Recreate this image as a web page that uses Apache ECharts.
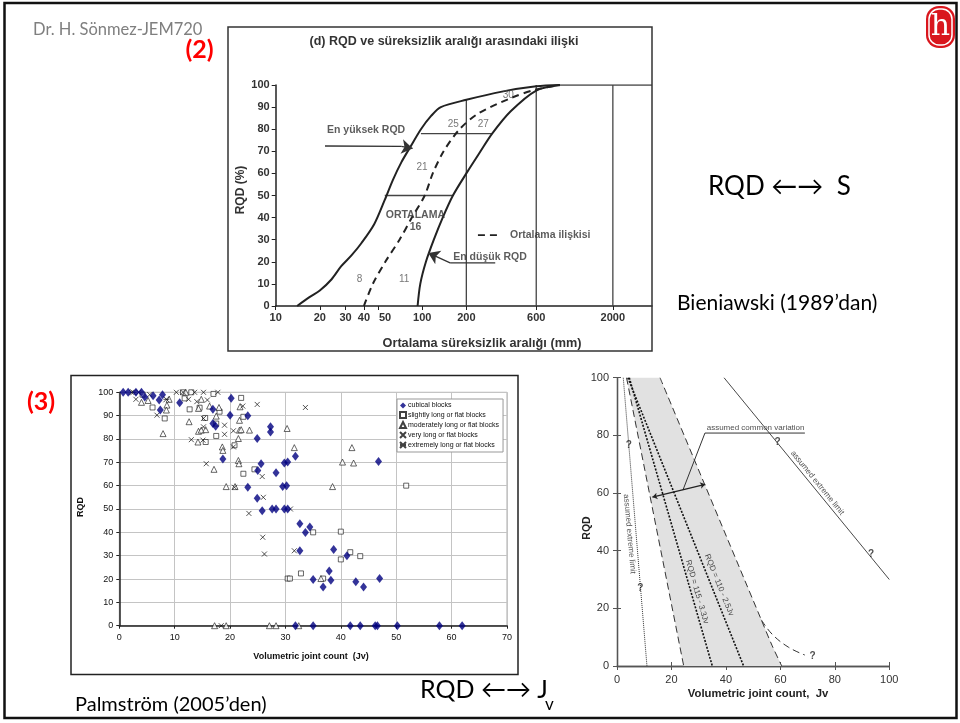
<!DOCTYPE html>
<html><head><meta charset="utf-8">
<script src="https://cdn.jsdelivr.net/npm/echarts@6/dist/echarts.min.js"></script>
<style>html,body{margin:0;padding:0;background:#fff}#c{width:960px;height:723px}</style>
</head><body><div id="c"></div>
<script>
// ===== Chart (2): RQD vs mean discontinuity spacing (Bieniawski 1989) =====
const spacingTicks = [10, 20, 30, 40, 50, 100, 200, 600, 2000];
const upperCurve = [[14,0],[17,4],[20,7],[24,12],[28,18],[33,23],[38.4,28.4],[47,37],[55.5,48],[63,57],[72,65],[83,72],[98,80],[115,86],[134,90],[200,93.3],[350,97],[600,99.4],[870,100]];
const meanCurve = [[40,0],[46,10],[56,20],[70,30],[85,40],[104,50],[118,60],[140,70],[180,80],[240,87],[400,94],[600,98],[870,100]];
const lowerCurve = [[93,0],[97,10],[106,20],[120,30],[138,40],[162,50],[200,60],[250,70],[300,78],[400,88],[600,97.5],[870,100]];
const frameLines2 = [
  [[870,100],[3700,100]],
  [[200,0],[200,93.3]],
  [[600,0],[600,100]],
  [[2000,0],[2000,100]],
  [[98,78],[300,78]],
  [[55.5,50],[162,50]]
];
const numLabels2 = [[163,82.4,'25'],[261,82.4,'27'],[387,95.2,'30'],[99.7,62.6,'21'],[37.4,12.1,'8'],[75.2,12.1,'11']];
const boldLabels2 = [[89.8,41.2,'ORTALAMA'],[90,35.9,'16'],[41.4,79.6,'En yüksek RQD'],[290,22.2,'En düşük RQD']];
const legendLabel2 = [[748,32.1,'Ortalama ilişkisi']];
const legendDash2 = [[240,32.1],[329,32.1]];
const highShaft = [[21.7,72.4],[72,72.2]];
const highHead = [[72,72.2],[86,71.3]];
const lowShaft = [[315,19.5],[155,19.5]];
const lowHead = [[155,19.5],[110,24]];

// ===== Chart (3): Palmström scatter RQD vs Jv =====
const cubical = [[0.7,100],[1.6,100],[3,100],[4,100],[4.6,98],[6.1,98.5],[7.8,99],[7.2,96.7],[7.4,92.4],[10.9,95.5],[16.9,92.7],[16.9,86.6],[17.4,85.5],[18.7,71.4],[20.2,97.4],[20,90.2],[23.2,90],[24.9,80.2],[27.3,85.2],[27.3,83],[25,66.5],[25.6,69.4],[28.3,65.5],[23.2,59.3],[24.9,54.6],[25.8,49.3],[27.6,50],[28.3,50],[29.8,69.7],[30.4,70.1],[31.8,72.6],[29.5,59.6],[30.2,60],[29.8,50],[30.4,50],[32.6,43.7],[34.4,42.3],[33.6,39.9],[32.6,32.1],[38.7,32.7],[41.1,30],[37.9,23.4],[35,19.8],[38.2,19.5],[36.8,16.6],[42.7,18.8],[44.1,16.6],[47,20.2],[46.8,70.3],[31.8,0],[35,0],[41.7,0],[43.5,0],[46.2,0],[46.6,0],[50.2,0],[57.8,0],[61.9,0]];
const slightly = [[4.2,99],[6,93.5],[8.2,88.8],[11.8,97.4],[12.7,92.7],[14.5,93.4],[17,99.3],[17.5,86.6],[18.1,91.7],[15.5,89],[15.6,78.7],[17.5,81.3],[22,97.6],[22.4,89.5],[22.4,65.1],[24.4,67],[20.8,77.3],[30.4,20.2],[35,40],[40,40.3],[41.7,31.5],[40,28.4],[43.5,29.8],[32.8,22.4],[30.8,20.2],[36.8,20.2],[51.8,60],[13,100],[11.5,100]];
const moderately = [[4,95.7],[5.2,96.5],[8.6,94.5],[8.5,92.4],[9,97],[7.9,82.3],[12.6,87.4],[14.3,93.1],[16.3,94.1],[18,93.5],[17.5,89.8],[14.3,83.3],[14.8,83.8],[15.6,84],[14.2,78.7],[18.6,76.6],[18.7,75.1],[17.1,67],[19.3,59.6],[20.9,59.6],[21.8,93.8],[21.7,88],[21.7,83.8],[22,84],[23.5,83.8],[21.5,80.2],[21.5,70.8],[21.6,69.4],[30.3,84.5],[31.6,76.3],[42,76.3],[40.3,70.1],[42.3,69.7],[38.5,59.6],[36.4,20.2],[17.2,0],[19.3,0],[27.1,0],[28.3,0],[32.4,0],[12,100],[14.8,97]];
const veryLong = [[2.2,100],[3.5,100],[5.5,99],[3,97],[6.8,90.2],[10.3,100],[11.5,100],[13.6,100],[15.2,100],[17.8,100],[13,79.7],[15.1,79.5],[15.2,85.2],[15.2,88.8],[15.9,96.7],[19,85.9],[19,82],[15.7,69.4],[20.6,83.5],[20.6,76.6],[20.8,59.3],[22.3,94.1],[24.9,94.8],[25.8,63.9],[26,55],[23.4,48.1],[33.6,93.5],[30.9,50],[25.9,37.9],[26.2,30.7],[31.6,32.1],[18.4,0],[12.5,97],[14,96]];
const extremelyLong = [[2.5,100],[8.5,97]];

// ===== Chart (4): RQD - Jv relation (Palmström 2005) =====
const bandPolygon = [[3.5,100],[24.5,0],[60.5,0],[57,7],[53,16],[15.8,100]];
const bandLeft = [[3.5,100],[24.5,0]];
const bandRight = [[15.8,100],[53,16],[57,7],[60.5,0]];
const bandTail = [[53,16],[57,11],[63,6.5],[69,3.8]];
const lineA = [[4.5,100],[35,0]];
const lineB = [[4,100],[46.5,0]];
const leftExtreme = [[2.3,100],[11,0]];
const rightExtreme = [[39.3,100],[100,30]];
const commonArrow = [[13,58.6],[32.4,63]];
const commonPointer = [[69,80.8],[32.3,80.8],[24.2,61]];
const qMarks = [[4.3,76.6],[8.6,27],[59,77.7],[93.3,38.8],[71.8,3.5]];
const rotLabels4 = [[29.4,25.7,'RQD = 115 - 3.3Jv',-74],[37.5,28.1,'RQD = 110 - 2.5Jv',-68],[4.6,45.8,'assumed extreme limit',-85],[73.6,63.5,'assumed extreme limit',-51]];
const commonLabel4 = [[50.9,82.6,'assumed common variation']];

const AR = 'Liberation Sans';
const SL = 'Lato';

function lineSer(data, xi, yi, style, extra) {
  return Object.assign({type:'line', xAxisIndex:xi, yAxisIndex:yi, data:data, showSymbol:false, symbol:'none', silent:true, lineStyle:style, z:3}, extra||{});
}
function textSer(arr, xi, yi, lab) {
  return {type:'scatter', xAxisIndex:xi, yAxisIndex:yi, symbolSize:0, silent:true, z:5,
    data: arr.map(d => ({value:[d[0],d[1]], label:{formatter:d[2], rotate: d[3]||0}})),
    label: Object.assign({show:true, position:'inside'}, lab)};
}

const series = [];
// chart 2
frameLines2.forEach(l => series.push(lineSer(l,0,0,{color:'#444',width:1.3})));
series.push(lineSer(upperCurve,0,0,{color:'#222',width:2},{smooth:0.3}));
series.push(lineSer(lowerCurve,0,0,{color:'#222',width:2},{smooth:0.3}));
series.push(lineSer(meanCurve,0,0,{color:'#222',width:2,type:[7,5]},{smooth:0.3}));
series.push(lineSer(legendDash2,0,0,{color:'#222',width:1.8,type:[7,5]}));
series.push(lineSer(highShaft,0,0,{color:'#333',width:1.3}));
series.push(lineSer(lowShaft,0,0,{color:'#333',width:1.3}));
series.push({type:'lines', coordinateSystem:'cartesian2d', xAxisIndex:0, yAxisIndex:0, silent:true, z:4,
  symbol:['none','arrow'], symbolSize:11, lineStyle:{color:'#333', width:1.3, opacity:1},
  data:[{coords:highHead},{coords:lowHead}]});
series.push(textSer(numLabels2,0,0,{fontSize:10,color:'#555',fontFamily:AR}));
series.push(textSer(boldLabels2,0,0,{fontSize:10.5,color:'#333',fontWeight:'bold',fontFamily:AR}));
series.push(textSer(legendLabel2,0,0,{fontSize:10.5,color:'#333',fontWeight:'bold',fontFamily:AR}));

// chart 3
const hollow = {color:'#fff', borderColor:'#111', borderWidth:0.8};
series.push({name:'cubical blocks', type:'scatter', xAxisIndex:1, yAxisIndex:1, data:cubical, symbol:'diamond', symbolSize:[7,9], itemStyle:{color:'#000080'}, z:6});
series.push({name:'slightly long or flat blocks', type:'scatter', xAxisIndex:1, yAxisIndex:1, data:slightly, symbol:'rect', symbolSize:5, itemStyle:hollow, z:5});
series.push({name:'moderately long or flat blocks', type:'scatter', xAxisIndex:1, yAxisIndex:1, data:moderately, symbol:'triangle', symbolSize:6, itemStyle:hollow, z:5});
series.push({name:'very long or flat blocks', type:'scatter', xAxisIndex:1, yAxisIndex:1, data:veryLong, symbol:'path://M0,0L10,10M10,0L0,10', symbolSize:5, itemStyle:{color:'rgba(0,0,0,0)', borderColor:'#111', borderWidth:0.9}, z:5});
series.push({name:'extremely long or flat blocks', type:'scatter', xAxisIndex:1, yAxisIndex:1, data:extremelyLong, symbol:'path://M0,0L10,10M10,0L0,10M0,5L10,5', symbolSize:6, itemStyle:{color:'rgba(0,0,0,0)', borderColor:'#111', borderWidth:0.9}, z:5});

// chart 4
series.push({type:'custom', xAxisIndex:2, yAxisIndex:2, silent:true, z:1, data:[[0,0]],
  renderItem:(p, api) => ({type:'polygon', shape:{points: bandPolygon.map(q => api.coord(q))}, style:{fill:'#e1e1e1'}})});
series.push(lineSer(bandLeft,2,2,{color:'#333',width:1,type:[7,4]}));
series.push(lineSer(bandRight,2,2,{color:'#333',width:1,type:[7,4]},{smooth:0.3}));
series.push(lineSer(bandTail,2,2,{color:'#333',width:1,type:[7,4]},{smooth:0.4}));
series.push(lineSer(lineA,2,2,{color:'#111',width:1.6,type:[2,1.5]}));
series.push(lineSer(lineB,2,2,{color:'#111',width:1.6,type:[2,1.5]}));
series.push(lineSer(leftExtreme,2,2,{color:'#333',width:1,type:[1,1]}));
series.push(lineSer(rightExtreme,2,2,{color:'#333',width:0.9}));
series.push(lineSer(commonPointer,2,2,{color:'#333',width:1}));
series.push({type:'lines', coordinateSystem:'cartesian2d', xAxisIndex:2, yAxisIndex:2, silent:true, z:4,
  symbol:['arrow','arrow'], symbolSize:5, lineStyle:{color:'#222', width:1.3, opacity:1},
  data:[{coords:commonArrow}]});
series.push(textSer(qMarks.map(q=>[q[0],q[1],'?']),2,2,{fontSize:10,color:'#222',fontWeight:'bold',fontFamily:AR}));
series.push(textSer(rotLabels4,2,2,{fontSize:8,color:'#222',fontFamily:AR}));
series.push(textSer(commonLabel4,2,2,{fontSize:8,color:'#222',fontFamily:AR}));

const blackAxis = {lineStyle:{color:'#222', width:1.5}};
const option = {
  animation:false,
  backgroundColor:'#fff',
  legend:{
    left:397, top:399, orient:'vertical', itemGap:2, itemWidth:6, itemHeight:6, padding:[3,4,3,2],
    borderColor:'#999', borderWidth:1, backgroundColor:'#fff', selectedMode:false,
    textStyle:{fontSize:7, fontFamily:AR, color:'#111', padding:[0,0,0,-3]},
    data:['cubical blocks','slightly long or flat blocks','moderately long or flat blocks','very long or flat blocks','extremely long or flat blocks']
  },
  grid:[
    {left:275.7, top:85, width:376.3, height:221},
    {left:119.3, top:392.3, width:387.7, height:233.4, show:true, borderColor:'#aaa', borderWidth:1, backgroundColor:'#fff'},
    {left:617, top:377.7, width:272.3, height:288.3}
  ],
  xAxis:[
    {gridIndex:0, type:'log', logBase:10, min:10, max:3700, axisLine:blackAxis,
     axisTick:{show:true, length:4, customValues:spacingTicks, lineStyle:{color:'#222'}},
     axisLabel:{customValues:spacingTicks,
       formatter:v => { const s = String(Math.round(v)); return s === '50' ? '{p|50}' : s; },
       rich:{p:{padding:[0,0,0,14], fontSize:11, fontWeight:'bold', fontFamily:AR, color:'#333'}},
       fontSize:11, fontWeight:'bold', fontFamily:AR, color:'#333', margin:6},
     splitLine:{show:false}, minorTick:{show:false}},
    {gridIndex:1, type:'value', min:0, max:70, interval:10, axisLine:blackAxis,
     axisTick:{show:true, length:3, inside:false, lineStyle:{color:'#222'}},
     axisLabel:{fontSize:9, fontFamily:AR, color:'#111', margin:7},
     splitLine:{show:true, lineStyle:{color:'#c4c4c4', width:1}}},
    {gridIndex:2, type:'value', min:0, max:100, interval:20, axisLine:{lineStyle:{color:'#555', width:1.3}},
     axisTick:{show:true, length:4, lineStyle:{color:'#555'}},
     axisLabel:{fontSize:11, fontFamily:AR, color:'#333', margin:8},
     splitLine:{show:false}},
    {gridIndex:2, type:'value', position:'top', min:0, max:100, interval:20, axisLine:{lineStyle:{color:'#555', width:1.3}},
     axisTick:{show:true, length:4, lineStyle:{color:'#555'}}, axisLabel:{show:false}, splitLine:{show:false}}
  ],
  yAxis:[
    {gridIndex:0, type:'value', min:0, max:100, interval:10, axisLine:{show:true, lineStyle:{color:'#222', width:1.5}},
     axisTick:{show:true, length:4, lineStyle:{color:'#222'}},
     axisLabel:{fontSize:11, fontWeight:'bold', fontFamily:AR, color:'#333', margin:6},
     splitLine:{show:false}},
    {gridIndex:1, type:'value', min:0, max:100, interval:10, axisLine:{show:true, lineStyle:{color:'#222', width:1.5}},
     axisTick:{show:true, length:3, lineStyle:{color:'#222'}},
     axisLabel:{fontSize:9, fontFamily:AR, color:'#111', margin:6},
     splitLine:{show:true, lineStyle:{color:'#c4c4c4', width:1}}},
    {gridIndex:2, type:'value', min:0, max:100, interval:20, axisLine:{show:true, lineStyle:{color:'#555', width:1.3}},
     axisTick:{show:true, length:4, lineStyle:{color:'#555'}},
     axisLabel:{fontSize:11, fontFamily:AR, color:'#333', margin:8},
     splitLine:{show:false}},
    {gridIndex:2, type:'value', position:'right', min:0, max:100, interval:20, axisLine:{show:true, lineStyle:{color:'#555', width:1.3}},
     axisTick:{show:true, length:4, lineStyle:{color:'#555'}}, axisLabel:{show:false}, splitLine:{show:false}}
  ],
  graphic:[
    {type:'rect', shape:{x:4.5, y:3, width:952, height:715}, style:{fill:'none', stroke:'#111', lineWidth:2.5}, z:100},
    {type:'rect', shape:{x:228, y:27, width:424, height:324}, style:{fill:'none', stroke:'#333', lineWidth:1.5}, z:100},
    {type:'rect', shape:{x:71, y:375.5, width:447, height:299}, style:{fill:'none', stroke:'#222', lineWidth:1.5}, z:100},
    {type:'text', style:{text:'Dr. H. Sönmez-JEM720', x:33, y:30, fontSize:16.5, fontFamily:SL, fill:'#7f7f7f', textVerticalAlign:'middle'}, z:100},
    {type:'text', style:{text:'(2)', x:199.5, y:50, fontSize:25, fontWeight:'bold', fontFamily:SL, fill:'#ff0000', textAlign:'center', textVerticalAlign:'middle'}, z:101},
    {type:'text', style:{text:'(3)', x:41, y:402, fontSize:25, fontWeight:'bold', fontFamily:SL, fill:'#ff0000', textAlign:'center', textVerticalAlign:'middle'}, z:101},
    {type:'text', style:{text:'(d) RQD ve süreksizlik aralığı arasındaki ilişki', x:444, y:42, fontSize:12.5, fontWeight:'bold', fontFamily:AR, fill:'#333', textAlign:'center', textVerticalAlign:'middle'}, z:100},
    {type:'text', style:{text:'RQD (%)', fontSize:12, fontWeight:'bold', fontFamily:AR, fill:'#333', textAlign:'center', textVerticalAlign:'middle'}, x:241, y:190, rotation:Math.PI/2, z:100},
    {type:'text', style:{text:'Ortalama süreksizlik aralığı (mm)', x:482, y:343, fontSize:12.7, fontWeight:'bold', fontFamily:AR, fill:'#333', textAlign:'center', textVerticalAlign:'middle'}, z:100},
    {type:'text', style:{text:'RQD \u2190\u2192  S', x:708, y:187, fontSize:26, fontFamily:SL, fill:'#000', textVerticalAlign:'middle'}, z:100},
    {type:'text', style:{text:'Bieniawski (1989\u2019dan)', x:677, y:303, fontSize:21, fontFamily:SL, fill:'#000', textVerticalAlign:'middle'}, z:100},
    {type:'text', style:{text:'RQD', fontSize:9, fontWeight:'bold', fontFamily:AR, fill:'#111', textAlign:'center', textVerticalAlign:'middle'}, x:81, y:507, rotation:Math.PI/2, z:100},
    {type:'text', style:{text:'Volumetric joint count  (Jv)', x:311, y:657, fontSize:9, fontWeight:'bold', fontFamily:AR, fill:'#111', textAlign:'center', textVerticalAlign:'middle'}, z:100},
    {type:'text', style:{text:'RQD', fontSize:10.5, fontWeight:'bold', fontFamily:AR, fill:'#222', textAlign:'center', textVerticalAlign:'middle'}, x:587, y:528, rotation:Math.PI/2, z:100},
    {type:'text', style:{text:'Volumetric joint count,  Jv', x:758, y:694, fontSize:11.3, fontWeight:'bold', fontFamily:AR, fill:'#222', textAlign:'center', textVerticalAlign:'middle'}, z:100},
    {type:'text', style:{text:'Palmström (2005\u2019den)', x:75, y:705, fontSize:20, fontFamily:SL, fill:'#000', textVerticalAlign:'middle'}, z:100},
    {type:'text', style:{text:'RQD \u2190\u2192 J', x:420, y:690, fontSize:25, fontFamily:SL, fill:'#000', textVerticalAlign:'middle'}, z:100},
    {type:'text', style:{text:'v', x:545, y:705, fontSize:17, fontFamily:SL, fill:'#000', textVerticalAlign:'middle'}, z:100},
    {type:'rect', shape:{x:926, y:6, width:29, height:42, r:13}, style:{fill:'#d9161d'}, z:100},
    {type:'rect', shape:{x:929, y:9, width:23, height:36, r:10}, style:{fill:'none', stroke:'#fff', lineWidth:1.5}, z:101},
    {type:'text', style:{text:'h', x:940.5, y:27, fontSize:30, fontFamily:'DejaVu Serif', fill:'#fff', textAlign:'center', textVerticalAlign:'middle'}, z:101}
  ],
  series: series
};
const chart = echarts.init(document.getElementById('c'));
chart.setOption(option);
</script></body></html>
